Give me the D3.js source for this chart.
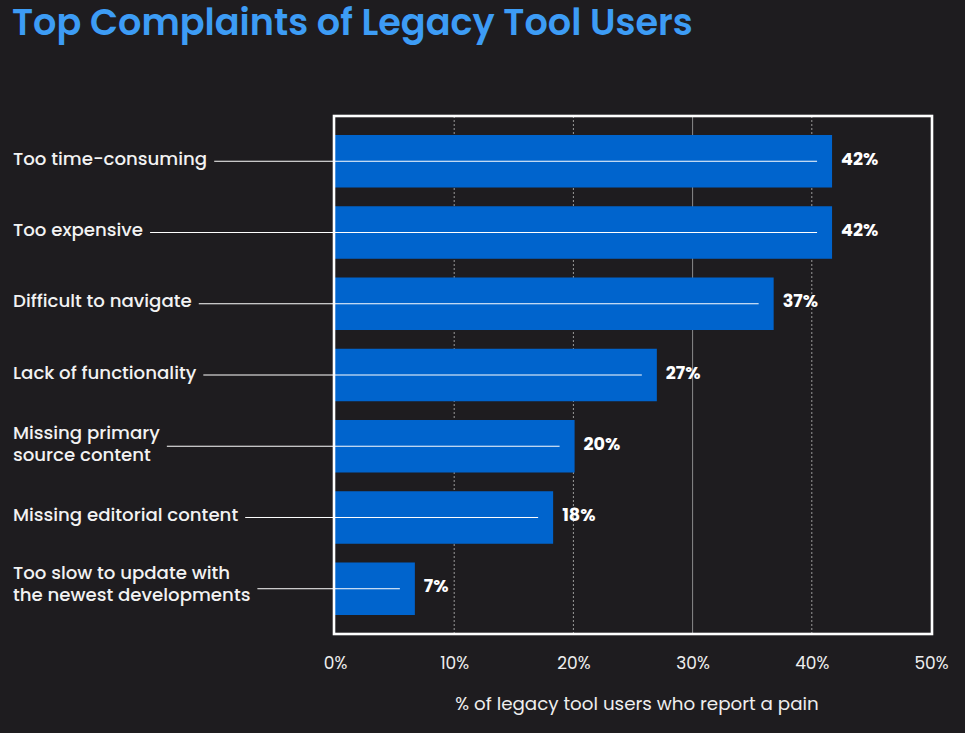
<!DOCTYPE html>
<html>
<head>
<meta charset="utf-8">
<script src="https://cdn.jsdelivr.net/npm/d3@7"></script>
<style>
  html, body { margin: 0; padding: 0; background: #1e1c1f; }
  svg { display: block; }
  text { font-family: Poppins, Inter, "Noto Sans", sans-serif; }
</style>
</head>
<body>
<script>
// categories, top to bottom (each entry = lines of the label)
var categories = [
    ["Too time-consuming"],
    ["Too expensive"],
    ["Difficult to navigate"],
    ["Lack of functionality"],
    ["Missing primary", "source content"],
    ["Missing editorial content"],
    ["Too slow to update with", "the newest developments"]
];
// % of legacy tool users (bar lengths)
var values = [41.7, 41.7, 36.8, 27.0, 20.1, 18.3, 6.7];
var ticks = [0, 10, 20, 30, 40, 50];

var width = 965, height = 733;
var frame = {left: 335, right: 931, top: 116, bottom: 634};

var svg = d3.select("body").append("svg")
    .attr("width", width)
    .attr("height", height);

svg.append("rect")
    .attr("width", width).attr("height", height)
    .attr("fill", "#1e1c1f");

// title
var title = svg.append("text")
    .attr("x", 12)
    .attr("y", 35)
    .attr("fill", "#3d9cf5")
    .attr("font-weight", 600)
    .style("font-size", "34px")
    .text("Top Complaints of Legacy Tool Users");
// fit title to the width seen in the reference
var tw = title.node().getComputedTextLength();
title.style("font-size", (34 * 681 / tw) + "px");

var x = d3.scaleLinear().domain([0, 50]).range([frame.left, frame.right]);
var y = d3.scaleBand()
    .domain(d3.range(categories.length))
    .range([135, 615])
    .paddingInner(0.263)
    .paddingOuter(0);

// gridlines (30% solid, others dotted)
svg.append("g").selectAll("line")
    .data(ticks.filter(function(t) { return t > 0 && t < 50; }))
    .join("line")
    .attr("x1", function(d) { return x(d); })
    .attr("x2", function(d) { return x(d); })
    .attr("y1", frame.top)
    .attr("y2", frame.bottom)
    .attr("stroke", function(d) { return d === 30 ? "#8a8a8a" : "#9a9a9a"; })
    .attr("stroke-width", 1)
    .attr("stroke-dasharray", function(d) { return d === 30 ? null : "2,2"; });

// bars
svg.append("g").selectAll("rect")
    .data(values)
    .join("rect")
    .attr("x", x(0))
    .attr("y", function(d, i) { return y(i); })
    .attr("width", function(d) { return x(d) - x(0); })
    .attr("height", y.bandwidth())
    .attr("fill", "#0064cd");

// frame around plot
svg.append("rect")
    .attr("x", frame.left - 1)
    .attr("y", frame.top)
    .attr("width", frame.right - frame.left + 2)
    .attr("height", frame.bottom - frame.top)
    .attr("fill", "none")
    .attr("stroke", "#ffffff")
    .attr("stroke-width", 2.6);

// category labels + leader lines
var lab = svg.append("g");
categories.forEach(function(lines, i) {
    var cy = y(i) + y.bandwidth() / 2;
    var lh = 22;
    var t = lab.append("text")
        .attr("fill", "#f2f2f2")
        .style("font-size", "18.2px")
        .attr("font-weight", 500);
    var y0 = cy - (lines.length - 1) * lh / 2 + 3.5;
    if (i === 6) y0 -= 2.5;
    lines.forEach(function(s, k) {
        t.append("tspan")
            .attr("x", 13)
            .attr("y", y0 + k * lh)
            .text(s);
    });
    var maxW = d3.max(t.selectAll("tspan").nodes(), function(n) { return n.getComputedTextLength(); });
    lab.append("line")
        .attr("x1", 13 + maxW + 7)
        .attr("x2", x(values[i]) - 15)
        .attr("y1", cy)
        .attr("y2", cy)
        .attr("stroke", "#ffffff")
        .attr("stroke-width", 1);
});

// value labels
svg.append("g").selectAll("text")
    .data(values)
    .join("text")
    .attr("x", function(d) { return x(d) + 9; })
    .attr("y", function(d, i) { return y(i) + y.bandwidth() / 2 + 3.5; })
    .attr("fill", "#ffffff")
    .attr("font-weight", 700)
    .style("font-size", "17.6px")
    .text(function(d) { return Math.round(d) + "%"; });

// x axis
var xAxis = d3.axisBottom(x)
    .tickValues(ticks)
    .tickFormat(function(d) { return d + "%"; })
    .tickSize(0)
    .tickPadding(0);
var ax = svg.append("g")
    .attr("transform", "translate(0,657)")
    .call(xAxis);
ax.select(".domain").remove();
ax.selectAll("text")
    .attr("fill", "#eeeeee")
    .style("font-size", "17px")
    .style("font-family", "Poppins, Inter, 'Noto Sans', sans-serif");

svg.append("text")
    .attr("x", 637)
    .attr("y", 704)
    .attr("dy", "0.35em")
    .attr("text-anchor", "middle")
    .attr("fill", "#eeeeee")
    .style("font-size", "18.3px")
    .text("% of legacy tool users who report a pain");
</script>
</body>
</html>
